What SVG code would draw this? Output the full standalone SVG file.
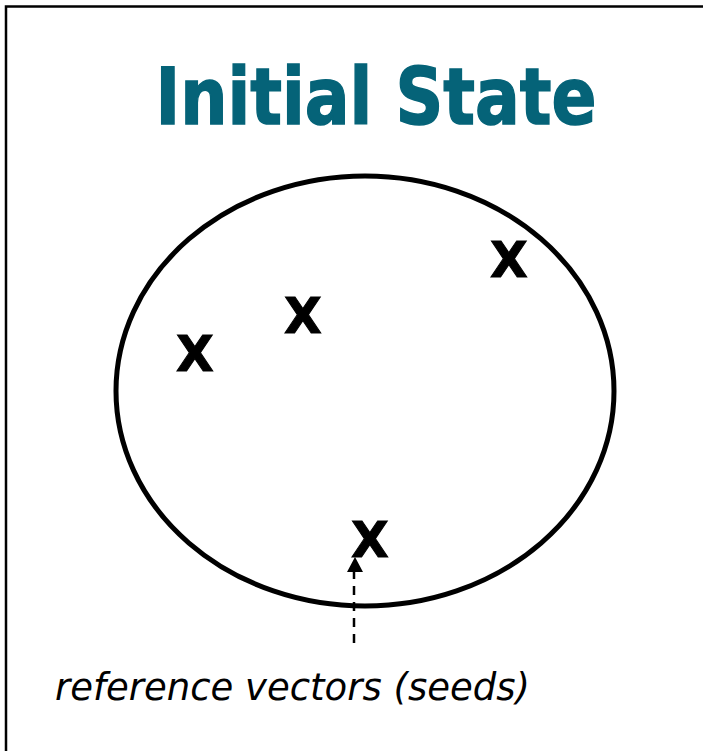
<svg xmlns="http://www.w3.org/2000/svg" width="703" height="751" viewBox="0 0 703 751">
<style>
.x{font-family:"DejaVu Sans",Verdana,sans-serif;font-weight:bold;font-size:49px;fill:#000;stroke:#000;stroke-width:1;text-anchor:middle}
</style>
<rect width="703" height="751" fill="#fff"/>
<path d="M6,751 V6.5 H703" fill="none" stroke="#000" stroke-width="2.5"/>
<text x="376" y="124" font-family="'DejaVu Sans',Verdana,sans-serif" font-weight="bold" font-size="79" fill="#056378" stroke="#056378" stroke-width="1.5" text-anchor="middle" textLength="441" lengthAdjust="spacingAndGlyphs">Initial State</text>
<g id="region">
<ellipse cx="365" cy="391" rx="249" ry="215" fill="none" stroke="#000" stroke-width="5"/>
</g>
<g id="seed1"><text class="x" x="195" y="371">X</text></g>
<g id="seed2"><text class="x" x="303" y="333">X</text></g>
<g id="seed3"><text class="x" x="509" y="277">X</text></g>
<g id="seed4"><text class="x" x="370" y="557">X</text></g>
<g id="connectors">
<line x1="354" y1="643" x2="354" y2="571" stroke="#000" stroke-width="2.5" stroke-dasharray="9,7"/>
<path d="M347,572 L355,557 L363,572 Z" fill="#000"/>
</g>
<g id="label">
<text x="55" y="700" font-family="'DejaVu Sans',Verdana,sans-serif" font-style="italic" font-size="37" fill="#000" textLength="475" lengthAdjust="spacingAndGlyphs">reference vectors (seeds)</text>
</g>
</svg>
